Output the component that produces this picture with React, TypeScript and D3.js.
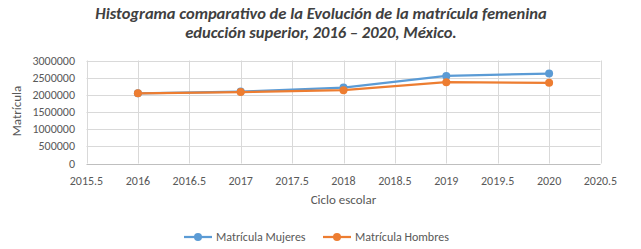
import React from "react";
import * as d3 from "d3";

const years = [2016, 2017, 2018, 2019, 2020];
const mujeres = [2045000, 2095000, 2210000, 2550000, 2620000];
const hombres = [2045000, 2080000, 2135000, 2370000, 2350000];
const xTicks = [2015.5, 2016, 2016.5, 2017, 2017.5, 2018, 2018.5, 2019, 2019.5, 2020, 2020.5];
const yTicks = [0, 500000, 1000000, 1500000, 2000000, 2500000, 3000000];
const titleLines = [
  "Histograma comparativo de la Evolución de la matrícula femenina",
  "educción superior, 2016 – 2020, México.",
];
const seriesNames = ["Matrícula Mujeres", "Matrícula Hombres"];
const colors = ["#5B9BD5", "#ED7D31"];

export default function App() {
  const W = 641, H = 249;
  const x = d3.scaleLinear().domain([2015.5, 2020.5]).range([86.5, 600.5]);
  const y = d3.scaleLinear().domain([0, 3000000]).range([163.5, 60.5]);
  const line = d3.line<number>().x((_, i) => x(years[i])).y((d) => y(d));
  const series = [mujeres, hombres];
  const font = "Carlito, 'Liberation Sans', 'Open Sans', sans-serif";
  const legendX = [184, 323];
  const cx = (x(2015.5) + x(2020.5)) / 2;
  return (
    <svg width={W} height={H} style={{ position: "absolute", left: 0, top: 0, background: "#fff" }} fontFamily={font}>
      {titleLines.map((t, i) => (
        <text key={i} x={321} y={19 + i * 19} textAnchor="middle" fontSize={16.5} fontWeight="bold" fontStyle="italic" fill="#404040">{t}</text>
      ))}
      {yTicks.map((t) => (
        <g key={"y" + t}>
          <line x1={x(2015.5)} x2={x(2020.5)} y1={Math.round(y(t)) + 0.5} y2={Math.round(y(t)) + 0.5} stroke={t === 0 ? "#bfbfbf" : "#d9d9d9"} />
          <text x={75} y={y(t) + 4} textAnchor="end" fontSize={12} fill="#595959">{t}</text>
        </g>
      ))}
      {xTicks.map((t) => (
        <g key={"x" + t}>
          <line x1={Math.round(x(t)) + 0.5} x2={Math.round(x(t)) + 0.5} y1={y(3000000)} y2={y(0)} stroke="#d9d9d9" />
          <text x={x(t)} y={185} textAnchor="middle" fontSize={12} fill="#595959">{t}</text>
        </g>
      ))}
      <text x={cx} y={204} textAnchor="middle" fontSize={13} fill="#595959">Ciclo escolar</text>
      <text transform={`translate(21,${y(1500000) - 1}) rotate(-90)`} textAnchor="middle" fontSize={13} fill="#595959">Matrícula</text>
      {series.map((s, si) => (
        <g key={"s" + si}>
          <path d={line(s) || ""} fill="none" stroke={colors[si]} strokeWidth={2.25} />
          {s.map((v, i) => (
            <circle key={i} cx={x(years[i])} cy={y(v)} r={4} fill={colors[si]} />
          ))}
        </g>
      ))}
      {seriesNames.map((n, i) => (
        <g key={"l" + i}>
          <line x1={legendX[i]} x2={legendX[i] + 28} y1={237} y2={237} stroke={colors[i]} strokeWidth={2.25} />
          <circle cx={legendX[i] + 14} cy={237} r={4} fill={colors[i]} />
          <text x={legendX[i] + 32} y={241} fontSize={12} fill="#595959">{n}</text>
        </g>
      ))}
    </svg>
  );
}
